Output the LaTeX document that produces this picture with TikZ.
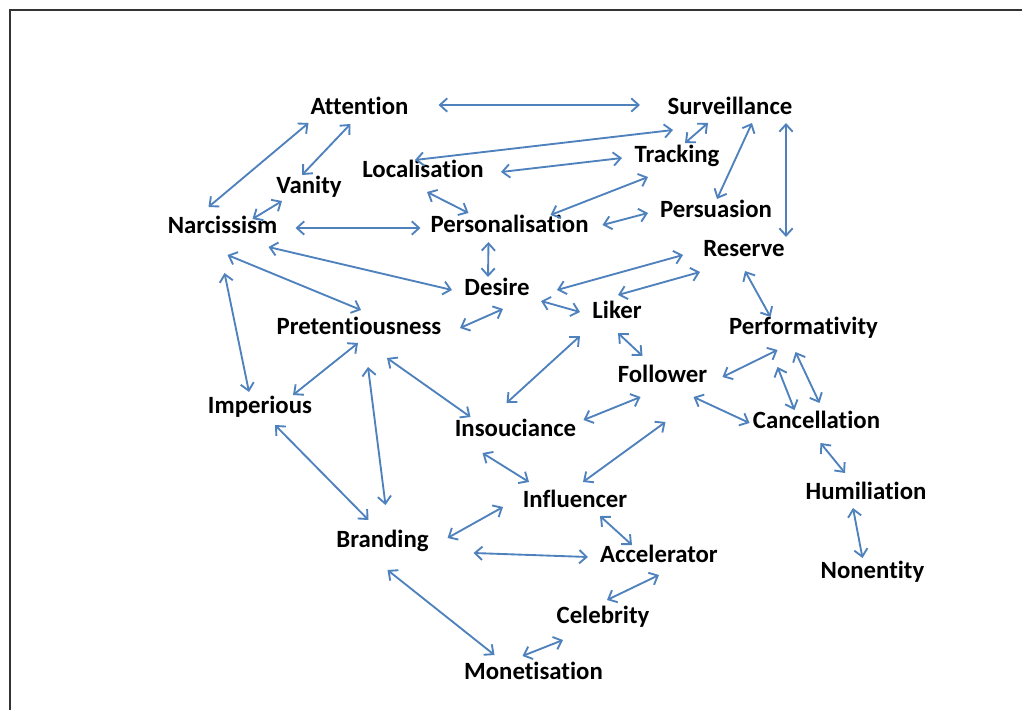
\documentclass[tikz,border=0pt]{standalone}
\usepackage{fontspec}
\setmainfont{Carlito}[Ligatures={NoCommon}]
\usetikzlibrary{arrows.meta}
\definecolor{arrblue}{RGB}{79,129,189}
\tikzset{
  lbl/.style={font=\fontsize{18.6}{20}\selectfont\bfseries, inner sep=0pt, anchor=base, text=black},
  arr/.style={draw=arrblue, line width=1.4pt, >={Straight Barb[length=5.5pt,width=10pt]}, <->},
  frame/.style={draw=black!80, line width=1.5pt}
}
\begin{document}
\begin{tikzpicture}[x=0.75pt,y=-0.75pt]
\useasboundingbox (0,0) rectangle (1022,710);
\draw[frame] (10,710) -- (10,10) -- (1022,10);
% nodes
\node[lbl] (att) at (359.5,114) {Attention};
\node[lbl] (surv) at (730,114) {Surveillance};
\node[lbl] (track) at (677,162) {Tracking};
\node[lbl] (local) at (423,177) {Localisation};
\node[lbl] (vanity) at (309,193) {Vanity};
\node[lbl] (narc) at (222.5,233) {Narcissism};
\node[lbl] (pers) at (509.5,232) {Personalisation};
\node[lbl] (persu) at (716,217) {Persuasion};
\node[lbl] (reserve) at (744,256) {Reserve};
\node[lbl] (desire) at (497,295) {Desire};
\node[lbl] (liker) at (617,318) {Liker};
\node[lbl] (pret) at (359,334) {Pretentiousness};
\node[lbl] (perf) at (803.5,334) {Performativity};
\node[lbl] (follow) at (662.5,382) {Follower};
\node[lbl] (imper) at (260,413) {Imperious};
\node[lbl] (insou) at (515.5,436) {Insouciance};
\node[lbl] (cancel) at (816.5,428) {Cancellation};
\node[lbl] (influ) at (575,507) {Influencer};
\node[lbl] (humil) at (866,499) {Humiliation};
\node[lbl] (brand) at (382.5,547) {Branding};
\node[lbl] (accel) at (659,562) {Accelerator};
\node[lbl] (nonent) at (872.5,578) {Nonentity};
\node[lbl] (celeb) at (603,623) {Celebrity};
\node[lbl] (monet) at (533.5,679) {Monetisation};
% connectors
\draw[arr] ([shift={(79,-9)}]att.base) -- ([shift={(-90,-9)}]surv.base);
\draw[arr] ([shift={(-51,9)}]att.base) -- ([shift={(-14,-26)}]narc.base);
\draw[arr] ([shift={(-9,10)}]att.base) -- ([shift={(-7,-18)}]vanity.base);
\draw[arr] ([shift={(-27,8)}]vanity.base) -- ([shift={(30,-14)}]narc.base);
\draw[arr] ([shift={(73,-5)}]narc.base) -- ([shift={(-89,-4)}]pers.base);
\draw[arr] ([shift={(-57,16)}]surv.base) -- ([shift={(-8,-17)}]local.base);
\draw[arr] ([shift={(78,-5)}]local.base) -- ([shift={(-55,-4)}]track.base);
\draw[arr] ([shift={(8,-19)}]track.base) -- ([shift={(-22,9)}]surv.base);
\draw[arr] ([shift={(22,9)}]surv.base) -- ([shift={(1,-18)}]persu.base);
\draw[arr] ([shift={(56,9)}]surv.base) -- ([shift={(42,-19)}]reserve.base);
\draw[arr] ([shift={(4,15)}]local.base) -- ([shift={(-41,-19)}]pers.base);
\draw[arr] ([shift={(41,-17)}]pers.base) -- ([shift={(-29,15)}]track.base);
\draw[arr] ([shift={(93,-7)}]pers.base) -- ([shift={(-68,-4)}]persu.base);
\draw[arr] ([shift={(-21,10)}]pers.base) -- ([shift={(-9,-18)}]desire.base);
\draw[arr] ([shift={(46,14)}]narc.base) -- ([shift={(-45,-5)}]desire.base);
\draw[arr] ([shift={(5,22)}]narc.base) -- ([shift={(2,-24)}]pret.base);
\draw[arr] ([shift={(2,40)}]narc.base) -- ([shift={(-11,-21)}]imper.base);
\draw[arr] ([shift={(6,14)}]desire.base) -- ([shift={(101,-6)}]pret.base);
\draw[arr] ([shift={(-1,9)}]pret.base) -- ([shift={(33,-18)}]imper.base);
\draw[arr] ([shift={(9,33)}]pret.base) -- ([shift={(3,-42)}]brand.base);
\draw[arr] ([shift={(28,24)}]pret.base) -- ([shift={(-45,-19)}]insou.base);
\draw[arr] ([shift={(-37,18)}]liker.base) -- ([shift={(-9,-33)}]insou.base);
\draw[arr] ([shift={(60,-5)}]desire.base) -- ([shift={(-61,-1)}]reserve.base);
\draw[arr] ([shift={(1,-23)}]liker.base) -- ([shift={(-44,16)}]reserve.base);
\draw[arr] ([shift={(44,6)}]desire.base) -- ([shift={(-37,-6)}]liker.base);
\draw[arr] ([shift={(1,15)}]reserve.base) -- ([shift={(-33,-17)}]perf.base);
\draw[arr] ([shift={(1,15)}]liker.base) -- ([shift={(-20,-26)}]follow.base);
\draw[arr] ([shift={(60,-5)}]follow.base) -- ([shift={(-26,16)}]perf.base);
\draw[arr] ([shift={(-26,33)}]perf.base) -- ([shift={(-22,-18)}]cancel.base);
\draw[arr] ([shift={(-8,18)}]perf.base) -- ([shift={(3,-25)}]cancel.base);
\draw[arr] ([shift={(31,15)}]follow.base) -- ([shift={(-67,-5)}]cancel.base);
\draw[arr] ([shift={(68,-16)}]insou.base) -- ([shift={(-22,15)}]follow.base);
\draw[arr] ([shift={(8,-25)}]influ.base) -- ([shift={(3,40)}]follow.base);
\draw[arr] ([shift={(-33,17)}]insou.base) -- ([shift={(-46,-25)}]influ.base);
\draw[arr] ([shift={(15,12)}]imper.base) -- ([shift={(-14,-27)}]brand.base);
\draw[arr] ([shift={(65,-9)}]brand.base) -- ([shift={(-72,0)}]influ.base);
\draw[arr] ([shift={(91,6)}]brand.base) -- ([shift={(-71,-5)}]accel.base);
\draw[arr] ([shift={(25,9)}]influ.base) -- ([shift={(-27,-17)}]accel.base);
\draw[arr] ([shift={(0,13)}]accel.base) -- ([shift={(4,-23)}]celeb.base);
\draw[arr] ([shift={(5,23)}]brand.base) -- ([shift={(-39,-24)}]monet.base);
\draw[arr] ([shift={(-40,17)}]celeb.base) -- ([shift={(-11,-23)}]monet.base);
\draw[arr] ([shift={(4,15)}]cancel.base) -- ([shift={(-21,-26)}]humil.base);
\draw[arr] ([shift={(-13,9)}]humil.base) -- ([shift={(-10,-20)}]nonent.base);
\end{tikzpicture}
\end{document}
